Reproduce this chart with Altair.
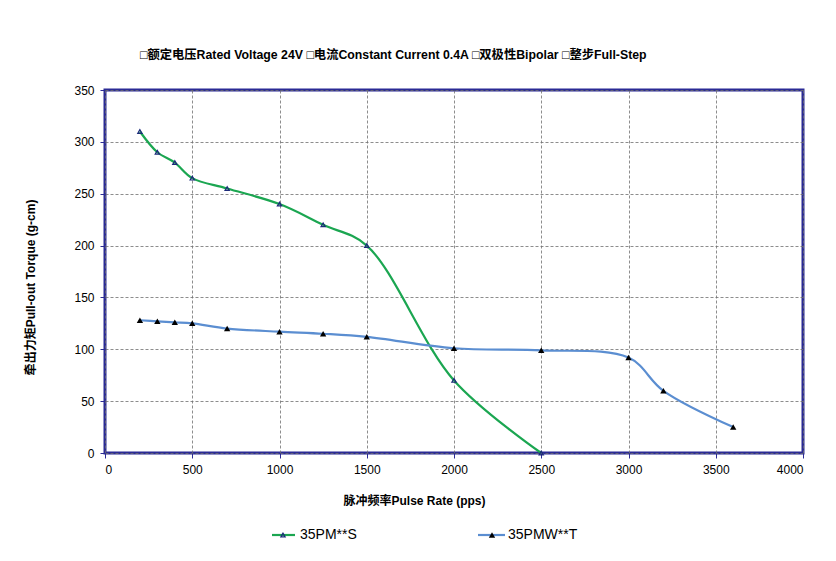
import altair as alt
import pandas as pd

s_name = "35PM**S"
s_x = [200, 300, 400, 500, 700, 1000, 1250, 1500, 2000, 2500]
s_y = [310, 290, 280, 265, 255, 240, 220, 200, 70, 0]

t_name = "35PMW**T"
t_x = [200, 300, 400, 500, 700, 1000, 1250, 1500, 2000, 2500, 3000, 3200, 3600]
t_y = [128, 127, 126, 125, 120, 117, 115, 112, 101, 99, 92, 60, 25]

title_text = "□额定电压Rated Voltage 24V □电流Constant Current 0.4A □双极性Bipolar □整步Full-Step"
x_title = "脉冲频率Pulse Rate (pps)"
y_title = "牵出力矩Pull-out Torque (g-cm)"

FONT = "Liberation Sans, Arial, Noto Sans CJK SC"
GREEN = "#1BA651"
BLUE = "#5B8ED1"

s_df = pd.DataFrame({"x": s_x, "y": s_y})
t_df = pd.DataFrame({"x": t_x, "y": t_y})

W, H = 698, 363

xenc = alt.X("x:Q", scale=alt.Scale(domain=[0, 4000], nice=False),
             axis=alt.Axis(values=list(range(0, 4001, 500)), format="d", title=x_title,
                           titleX=309, titlePadding=20, labelPadding=6))
yenc = alt.Y("y:Q", scale=alt.Scale(domain=[0, 350], nice=False),
             axis=alt.Axis(values=list(range(0, 351, 50)), format="d", title=y_title,
                           titleY=197, titlePadding=36, labelPadding=6))

s_line = alt.Chart(s_df).mark_line(color=GREEN, strokeWidth=2.2, interpolate="catmull-rom").encode(x=xenc, y=yenc)
s_pts = alt.Chart(s_df).mark_point(shape="triangle-up", filled=False, color="#1C2A7A", size=18, strokeWidth=1.2, opacity=1).encode(x="x:Q", y="y:Q")
t_line = alt.Chart(t_df).mark_line(color=BLUE, strokeWidth=2.2, interpolate="catmull-rom").encode(x="x:Q", y="y:Q")
t_pts = alt.Chart(t_df).mark_point(shape="triangle-up", filled=True, color="black", size=40, opacity=1).encode(x="x:Q", y="y:Q")

title = alt.Chart(pd.DataFrame({"t": [title_text]})).mark_text(
    font=FONT, fontSize=12.3, fontWeight="bold", align="left", baseline="middle", color="black"
).encode(x=alt.value(35), y=alt.value(-35), text="t:N")

ly = 445
leg_df = pd.DataFrame({"n": [0]})
legend_layers = [
    alt.Chart(leg_df).mark_rule(color=GREEN, strokeWidth=2.2).encode(x=alt.value(167), x2=alt.value(190), y=alt.value(ly)),
    alt.Chart(leg_df).mark_point(shape="triangle-up", filled=False, color="#1C2A7A", size=18, strokeWidth=1.2, opacity=1).encode(x=alt.value(178), y=alt.value(ly)),
    alt.Chart(pd.DataFrame({"t": [s_name]})).mark_text(font=FONT, fontSize=14, align="left", baseline="middle", color="black").encode(x=alt.value(195), y=alt.value(ly), text="t:N"),
    alt.Chart(leg_df).mark_rule(color=BLUE, strokeWidth=2.2).encode(x=alt.value(373), x2=alt.value(400), y=alt.value(ly)),
    alt.Chart(leg_df).mark_point(shape="triangle-up", filled=True, color="black", size=40, opacity=1).encode(x=alt.value(387), y=alt.value(ly)),
    alt.Chart(pd.DataFrame({"t": [t_name]})).mark_text(font=FONT, fontSize=14, align="left", baseline="middle", color="black").encode(x=alt.value(403), y=alt.value(ly), text="t:N"),
]

chart = alt.layer(s_line, t_line, s_pts, t_pts, title, *legend_layers).properties(
    width=W, height=H,
    autosize=alt.AutoSizeParams(type="none"),
    padding={"left": 105, "top": 90, "right": 33, "bottom": 108},
    background="white",
).configure_view(
    stroke="#2B2B95", strokeWidth=3, clip=False
).configure_axis(
    labelFont=FONT, labelFontSize=12, labelColor="black",
    titleFont=FONT, titleFontSize=12, titleFontWeight="bold", titleColor="black",
    grid=True, gridColor="#707070", gridDash=[3, 2], gridWidth=0.8,
    domain=False, tickColor="#2B2B95", tickSize=5, tickWidth=1,
)

chart.save("out.html", embed_options={"renderer": "svg", "actions": False})
